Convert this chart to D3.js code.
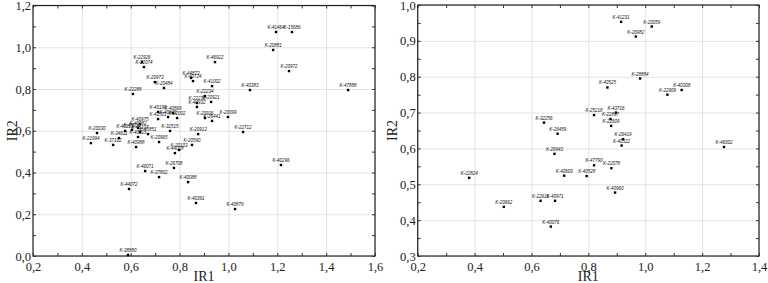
<!DOCTYPE html>
<html>
<head>
<meta charset="utf-8">
<script src="https://cdn.jsdelivr.net/npm/d3@7"></script>
<style>
  body { margin: 0; background: #fff; }
  svg { display: block; }
  .tick text { font-family: 'Liberation Serif', 'Times New Roman', serif; font-size: 12.5px; fill: #222; }
  .grid line { stroke: #e4e4e4; }
  .grid path { display: none; }
  .pt-label { font-family: 'Liberation Sans', Arial, sans-serif; font-size: 4.5px; font-style: italic; fill: #111; }
  .axis-title { font-family: 'Liberation Serif', 'Times New Roman', serif; font-size: 14px; fill: #222; }
</style>
</head>
<body>
<svg id="chart"></svg>
<script>
/* global d3 */
// left panel
const leftIds = ['K-22926', 'K-22074', 'K-20973', 'K-20484', 'K-22288', 'K-44873', 'K-40724',
  'K-41464', 'K-15686', 'K-20881', 'K-46922', 'K-20972', 'K-41002', 'K-40383', 'K-47888',
  'K-22234', 'K-22236', 'K-20921', 'K-44932', 'K-20936', 'K-26441', 'K-20099', 'K-20913',
  'K-22712', 'K-20590', 'K-20030', 'K-21994', 'K-34611', 'K-37102', 'K-40975', 'K-40982',
  'K-45107', 'K-40315', 'K-45851', 'K-40988', 'K-40198', 'K-40869', 'K-43501', 'K-40643',
  'K-22002', 'K-32515', 'K-20965', 'K-20103', 'K-44018', 'K-46071', 'K-37802', 'K-26708',
  'K-40088', 'K-44072', 'K-40391', 'K-40879', 'K-40296', 'K-38880', 'K-40223', 'K-45016']
const leftIR1 = [0.646, 0.654, 0.699, 0.736, 0.609, 0.847, 0.855,
  1.195, 1.260, 1.183, 0.945, 1.248, 0.933, 1.088, 1.490,
  0.904, 0.871, 0.929, 0.871, 0.904, 0.933, 0.998, 0.876,
  1.060, 0.851, 0.462, 0.437, 0.552, 0.528, 0.638, 0.630,
  0.638, 0.630, 0.671, 0.622, 0.712, 0.773, 0.712, 0.753,
  0.790, 0.761, 0.716, 0.798, 0.781, 0.659, 0.716, 0.777,
  0.835, 0.593, 0.867, 1.027, 1.215, 0.589, 0.577, 0.605]
const leftIR2 = [0.929, 0.905, 0.833, 0.805, 0.776, 0.853, 0.838,
  1.073, 1.073, 0.987, 0.929, 0.886, 0.814, 0.795, 0.795,
  0.766, 0.733, 0.738, 0.714, 0.661, 0.647, 0.666, 0.584,
  0.594, 0.532, 0.589, 0.541, 0.565, 0.532, 0.632, 0.613,
  0.594, 0.570, 0.584, 0.522, 0.690, 0.685, 0.656, 0.666,
  0.661, 0.599, 0.546, 0.508, 0.493, 0.407, 0.378, 0.422,
  0.354, 0.321, 0.254, 0.225, 0.436, 0.005, 0.599, 0.604]
const leftXTicks = [0.2, 0.4, 0.6, 0.8, 1.0, 1.2, 1.4, 1.6]
const leftYTicks = [0.0, 0.2, 0.4, 0.6, 0.8, 1.0, 1.2]

// right panel
const rightIds = ['K-41231', 'K-20059', 'K-26982', 'K-28884', 'K-40525', 'K-40308', 'K-22909',
  'K-43716', 'K-25218', 'K-22897', 'K-22609', 'K-26419', 'K-40522', 'K-46002', 'K-32256',
  'K-26459', 'K-26943', 'K-40600', 'K-22824', 'K-20662', 'K-22616', 'K-40971', 'K-40076',
  'K-47790', 'K-22078', 'K-40528', 'K-40960']
const rightIR1 = [0.915, 1.023, 0.967, 0.982, 0.867, 1.128, 1.078,
  0.897, 0.820, 0.878, 0.880, 0.922, 0.917, 1.277, 0.644,
  0.692, 0.681, 0.715, 0.381, 0.503, 0.632, 0.683, 0.668,
  0.820, 0.881, 0.794, 0.894]
const rightIR2 = [0.953, 0.940, 0.912, 0.795, 0.770, 0.763, 0.750,
  0.700, 0.693, 0.682, 0.663, 0.626, 0.608, 0.604, 0.672,
  0.641, 0.585, 0.524, 0.518, 0.437, 0.454, 0.454, 0.382,
  0.553, 0.545, 0.523, 0.477]
const rightXTicks = [0.2, 0.4, 0.6, 0.8, 1.0, 1.2, 1.4]
const rightYTicks = [0.3, 0.4, 0.5, 0.6, 0.7, 0.8, 0.9, 1.0]

const width = 768
const height = 283
const fmt = d => d3.format('.1f')(d).replace('.', ',')

const svg = d3.select('#chart')
  .attr('width', width)
  .attr('height', height)

function midpoints (ticks) {
  const out = []
  for (let i = 0; i < ticks.length - 1; i++) out.push((ticks[i] + ticks[i + 1]) / 2)
  return out
}

function drawPanel (cfg) {
  const { ids, xs, ys, xTicks, yTicks, left, right, top, bottom, titleGap } = cfg
  const data = ids.map((id, i) => ({ id, x: xs[i], y: ys[i] }))

  const xScale = d3.scaleLinear()
    .domain(d3.extent(xTicks))
    .range([left, right])
  const yScale = d3.scaleLinear()
    .domain(d3.extent(yTicks))
    .range([bottom, top])
  const w = right - left
  const h = bottom - top

  // grid
  svg.append('g')
    .attr('class', 'grid')
    .attr('transform', `translate(0, ${bottom})`)
    .call(d3.axisBottom(xScale).tickValues(xTicks).tickSize(-h).tickFormat(''))
  svg.append('g')
    .attr('class', 'grid')
    .attr('transform', `translate(${left}, 0)`)
    .call(d3.axisLeft(yScale).tickValues(yTicks).tickSize(-w).tickFormat(''))

  // frame
  svg.append('rect')
    .attr('x', left)
    .attr('y', top)
    .attr('width', w)
    .attr('height', h)
    .attr('fill', 'none')
    .attr('stroke', '#222')
    .attr('stroke-width', 1.2)

  // inward ticks on all four sides, major + minor
  const xAll = xTicks.concat(midpoints(xTicks))
  const yAll = yTicks.concat(midpoints(yTicks))
  const tickStyle = g => {
    g.select('.domain').remove()
    g.selectAll('line').attr('stroke', '#333')
  }
  svg.append('g')
    .attr('transform', `translate(0, ${bottom})`)
    .call(d3.axisBottom(xScale).tickValues(xAll).tickSize(-3).tickFormat(''))
    .call(tickStyle)
  svg.append('g')
    .attr('transform', `translate(0, ${top})`)
    .call(d3.axisTop(xScale).tickValues(xAll).tickSize(-3).tickFormat(''))
    .call(tickStyle)
  svg.append('g')
    .attr('transform', `translate(${left}, 0)`)
    .call(d3.axisLeft(yScale).tickValues(yAll).tickSize(-3).tickFormat(''))
    .call(tickStyle)
  svg.append('g')
    .attr('transform', `translate(${right}, 0)`)
    .call(d3.axisRight(yScale).tickValues(yAll).tickSize(-3).tickFormat(''))
    .call(tickStyle)

  // tick labels
  svg.append('g')
    .attr('transform', `translate(0, ${bottom})`)
    .call(d3.axisBottom(xScale).tickValues(xTicks).tickSize(0).tickPadding(6).tickFormat(fmt))
    .call(g => g.select('.domain').remove())
  svg.append('g')
    .attr('transform', `translate(${left}, 0)`)
    .call(d3.axisLeft(yScale).tickValues(yTicks).tickSize(0).tickPadding(2).tickFormat(fmt))
    .call(g => g.select('.domain').remove())

  // axis titles
  svg.append('text')
    .attr('class', 'axis-title')
    .attr('x', (left + right) / 2)
    .attr('y', 281)
    .attr('text-anchor', 'middle')
    .text('IR1')
  svg.append('text')
    .attr('class', 'axis-title')
    .attr('transform', `translate(${left - titleGap}, ${(top + bottom) / 2}) rotate(-90)`)
    .attr('text-anchor', 'middle')
    .text('IR2')

  // points + labels
  const pts = svg.append('g')
  pts.selectAll('rect')
    .data(data)
    .enter()
    .append('rect')
    .attr('x', d => xScale(d.x) - 1.2)
    .attr('y', d => yScale(d.y) - 1.2)
    .attr('width', 2.4)
    .attr('height', 2.4)
    .attr('fill', '#000')
  pts.selectAll('text')
    .data(data)
    .enter()
    .append('text')
    .attr('class', 'pt-label')
    .attr('x', d => xScale(d.x))
    .attr('y', d => yScale(d.y) - 3)
    .attr('text-anchor', 'middle')
    .text(d => d.id)
}

drawPanel({
  ids: leftIds,
  xs: leftIR1,
  ys: leftIR2,
  xTicks: leftXTicks,
  yTicks: leftYTicks,
  left: 33,
  right: 375,
  top: 5.5,
  bottom: 256,
  titleGap: 16
})

drawPanel({
  ids: rightIds,
  xs: rightIR1,
  ys: rightIR2,
  xTicks: rightXTicks,
  yTicks: rightYTicks,
  left: 417.7,
  right: 759,
  top: 5,
  bottom: 256,
  titleGap: 21
})
</script>
</body>
</html>
